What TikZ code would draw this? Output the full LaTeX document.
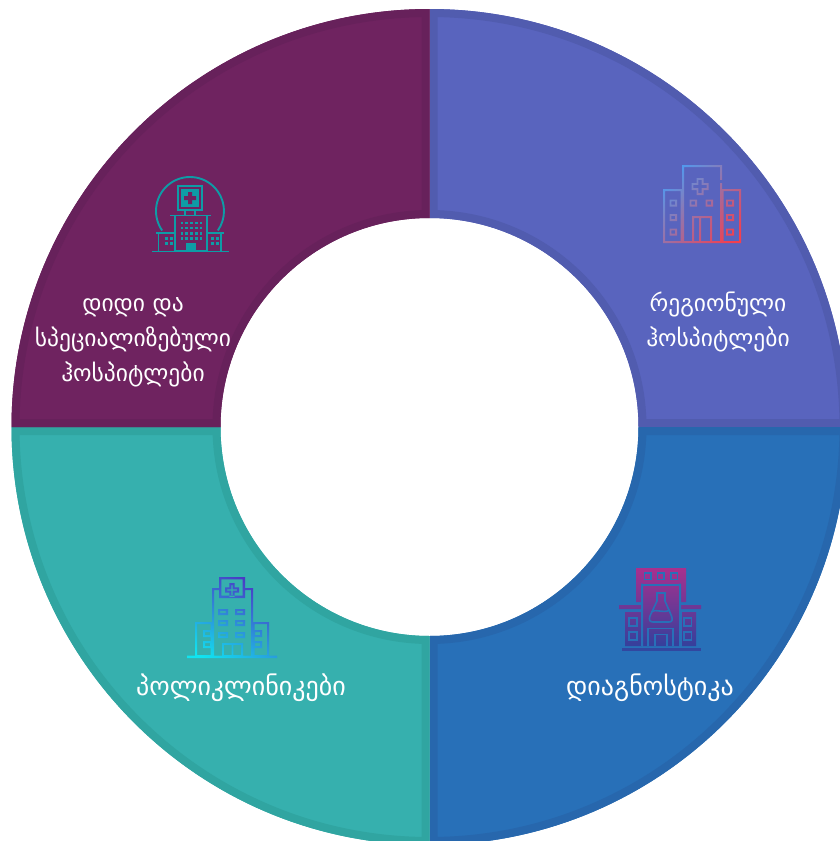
\documentclass[tikz,border=0pt]{standalone}
\usepackage{fontspec}
\setmainfont{DejaVu Sans}
\definecolor{cPurple}{HTML}{6F2360}
\definecolor{cPurpleB}{HTML}{67215B}
\definecolor{cViolet}{HTML}{5964BE}
\definecolor{cVioletB}{HTML}{515CAF}
\definecolor{cBlue}{HTML}{2870B8}
\definecolor{cBlueB}{HTML}{2767AD}
\definecolor{cTeal}{HTML}{36B0AE}
\definecolor{cTealB}{HTML}{30A5A1}
\definecolor{cIcon}{HTML}{0E9CA6}
\definecolor{cRedEnd}{HTML}{F2404F}
\definecolor{cBlueEnd}{HTML}{4A9DF5}
\definecolor{cCyanEnd}{HTML}{10E4F0}
\definecolor{cIndigoEnd}{HTML}{5028C0}
\definecolor{cMagenta}{HTML}{A8308E}
\definecolor{cIndigo}{HTML}{34409C}
\tikzset{
  ringlabel/.style={text=white,align=center,inner sep=0pt,font=\fontsize{23.5}{35}\selectfont},
  ringlabelbig/.style={ringlabel,font=\fontsize{26}{35}\selectfont},
  solidicon/.style={draw=cIcon,line width=1.9pt,fill=none},
  dot/.style={fill=cIcon,draw=none},
  holeline/.style={draw=cBlue,line width=1.6pt,fill=none}
}
% one quadrant of the ring: #1 start angle, #2 fill, #3 border
\newcommand\quadsector[3]{%
  \begin{scope}
    \clip (0,0) rectangle (840,841);
    \def\pth{([shift={(#1:418)}]429.5,427) arc (#1:#1+90:418)
      -- ([shift={(#1+90:209)}]429.5,427) arc (#1+90:#1:209) -- cycle}
    \begin{scope}
      \clip \pth;
      \fill[#2] (0,0) rectangle (860,860);
      \draw[#3,line width=16pt] \pth;
    \end{scope}
  \end{scope}}
% frame of a rectangle as part of a clip path (outer and inner opposite ways round)
\newcommand\fr[5]{(#1,#2) rectangle (#3,#4)
  ({#3-#5},{#2+#5}) rectangle ({#1+#5},{#4-#5})}
% solid rectangle
\newcommand\bx[4]{(#1,#2) rectangle (#3,#4)}
% outlined cross: centre #1 #2, half span #3, half arm #4, stroke #5
\newcommand\crs[5]{%
  ({#1-#4},{#2-#3}) -- ({#1+#4},{#2-#3}) -- ({#1+#4},{#2-#4}) -- ({#1+#3},{#2-#4})
  -- ({#1+#3},{#2+#4}) -- ({#1+#4},{#2+#4}) -- ({#1+#4},{#2+#3}) -- ({#1-#4},{#2+#3})
  -- ({#1-#4},{#2+#4}) -- ({#1-#3},{#2+#4}) -- ({#1-#3},{#2-#4}) -- ({#1-#4},{#2-#4}) -- cycle
  ({#1-#4+#5},{#2-#3+#5}) -- ({#1-#4+#5},{#2-#4+#5}) -- ({#1-#3+#5},{#2-#4+#5})
  -- ({#1-#3+#5},{#2+#4-#5}) -- ({#1-#4+#5},{#2+#4-#5}) -- ({#1-#4+#5},{#2+#3-#5})
  -- ({#1+#4-#5},{#2+#3-#5}) -- ({#1+#4-#5},{#2+#4-#5}) -- ({#1+#3-#5},{#2+#4-#5})
  -- ({#1+#3-#5},{#2-#4+#5}) -- ({#1+#4-#5},{#2-#4+#5}) -- ({#1+#4-#5},{#2-#3+#5}) -- cycle}
\begin{document}
\begin{tikzpicture}[x=1pt,y=1pt,yscale=-1]
\useasboundingbox (0,0) rectangle (840,841);
\fill[white] (0,0) rectangle (840,841);
\quadsector{270}{cViolet}{cVioletB}
\quadsector{0}{cBlue}{cBlueB}
\quadsector{90}{cTeal}{cTealB}
\quadsector{180}{cPurple}{cPurpleB}

% icon: large hospital (top left)
\draw[solidicon] (190,211) ++(145:34) arc (145:395:34);
\draw[solidicon] (177.7,185.7) rectangle (202.3,210.3);
\fill[cIcon] (181,189) rectangle (199,207);
\fill[cPurple] (188,192) rectangle (192,204) (184,196) rectangle (196,200);
\draw[solidicon] (185,211) -- (185,215) (195,211) -- (195,215);
\draw[solidicon] (170,215.5) -- (211,215.5);
\draw[solidicon] (175,215.5) rectangle (207,251);
\foreach \i in {0,...,4} \foreach \j in {0,...,3}
  \fill[dot] ({180.5+\i*4.8},{221.5+\j*5.2}) rectangle ++(2.6,2.6);
\fill[dot] (186,243) rectangle (196,251);
\draw[solidicon] (156,233) -- (175,233) (207,233) -- (224,233);
\draw[solidicon] (158.5,233) -- (158.5,251) (221,233) -- (221,251);
\foreach \x in {165,169.5,211,215.5} \foreach \y in {237,242}
  \fill[dot] (\x,\y) rectangle ++(3,3);
\draw[solidicon] (152,251.5) -- (229,251.5);

% icon: regional hospital (top right)
\begin{scope}
  \clip \fr{682}{165}{722}{243}{2}
        \fr{663}{189}{682.5}{243}{2}
        \fr{721.5}{189}{741}{243}{2}
        \crs{700}{186.5}{8.5}{3.5}{1.9}
        \fr{669.5}{199.5}{677}{206.5}{1.9} \fr{669.5}{214}{677}{221}{1.9} \fr{669.5}{228.5}{677}{235.5}{1.9}
        \fr{726}{199.5}{734}{206.5}{1.9} \fr{726}{214}{734}{221}{1.9} \fr{726}{228.5}{734}{235.5}{1.9}
        \fr{689.5}{199.5}{697}{206.5}{1.9} \fr{705.5}{199.5}{713}{206.5}{1.9}
        \fr{692}{216}{712}{243}{2}
        \bx{699.2}{216}{701.2}{243};
  \shade[top color=cBlueEnd,bottom color=cRedEnd,shading angle=45]
    (655,160) rectangle (748,250);
\end{scope}
\fill[cViolet] (719,180) rectangle (724,183);

% icon: polyclinic (bottom left)
\begin{scope}
  \clip \fr{219}{577}{245}{598}{2.4}
        \crs{232}{590}{7}{2.6}{2}
        \bx{212}{588}{219}{590} \bx{245}{588}{253}{590}
        \bx{212}{588}{214}{657} \bx{251}{588}{253}{657}
        \fr{195}{622}{212.5}{657}{2}
        \fr{252.5}{622}{269}{657}{2}
        \fr{218}{609}{228}{615}{2.2} \fr{235}{609}{245}{615}{2.2}
        \fr{218}{620}{228}{626}{2.2} \fr{235}{620}{245}{626}{2.2}
        \fr{218}{632}{228}{638}{2.2} \fr{235}{632}{245}{638}{2.2}
        \fr{203}{630}{212}{637}{2} \fr{203}{641}{212}{648}{2}
        \fr{253}{630}{262}{637}{2} \fr{253}{641}{262}{648}{2}
        \fr{222}{643}{243}{657}{1.8}
        \bx{231.5}{643}{233.4}{657}
        \bx{187}{655.5}{277}{658};
  \shade[top color=cIndigoEnd,bottom color=cCyanEnd,shading angle=-30]
    (180,570) rectangle (285,665);
\end{scope}

% icon: diagnostics (bottom right)
\begin{scope}
  \clip \bx{636}{568}{686}{602}
        \bx{643}{585}{679}{646}
        \bx{619}{605}{642}{609} \bx{681}{605}{701}{609}
        \bx{625}{612}{642}{646} \bx{682}{612}{696}{646};
  \shade[top color=cMagenta,bottom color=cIndigo] (610,568) rectangle (710,646);
\end{scope}
\fill[cBlue] (641,583.5) rectangle (643,646) (679,583.5) rectangle (681,646);
\fill[cBlue] (641,583.5) rectangle (681,585.5);
\draw[holeline] (644.5,573) rectangle (651,579.5) (657.5,573) rectangle (664,579.5) (671,573) rectangle (677.5,579.5);
\draw[holeline] (629,618) rectangle (637,626) (629,632) rectangle (637,640);
\draw[holeline] (684,618) rectangle (691.5,626) (684,632) rectangle (691.5,640);
\draw[holeline] (648,646) -- (648,628.5) -- (673,628.5) -- (673,646);
\draw[holeline] (655,646) -- (655,634.5) -- (667,634.5) -- (667,646);
\draw[holeline,line join=round] (656,593) -- (666,593) (657,593) -- (657,601) -- (650,616) .. controls (648.5,620) and (650,622) .. (653,622)
  -- (669,622) .. controls (672,622) and (673,620) .. (671.5,616) -- (665,601) -- (665,593);
\draw[holeline] (651,612) .. controls (656,608) and (662,614) .. (670,610);
\fill[cIndigo!85!cBlue] (622,647.5) rectangle (701,650.5);

% labels
\node[ringlabel] (t1) at (133,342) {დიდი და\\სპეციალიზებული\\ჰოსპიტლები};
\node[ringlabel] (t2) at (718,322) {რეგიონული\\ჰოსპიტლები};
\node[ringlabelbig] (t3) at (241,688) {პოლიკლინიკები};
\node[ringlabelbig] (t4) at (650,688) {დიაგნოსტიკა};
\end{tikzpicture}
\end{document}
